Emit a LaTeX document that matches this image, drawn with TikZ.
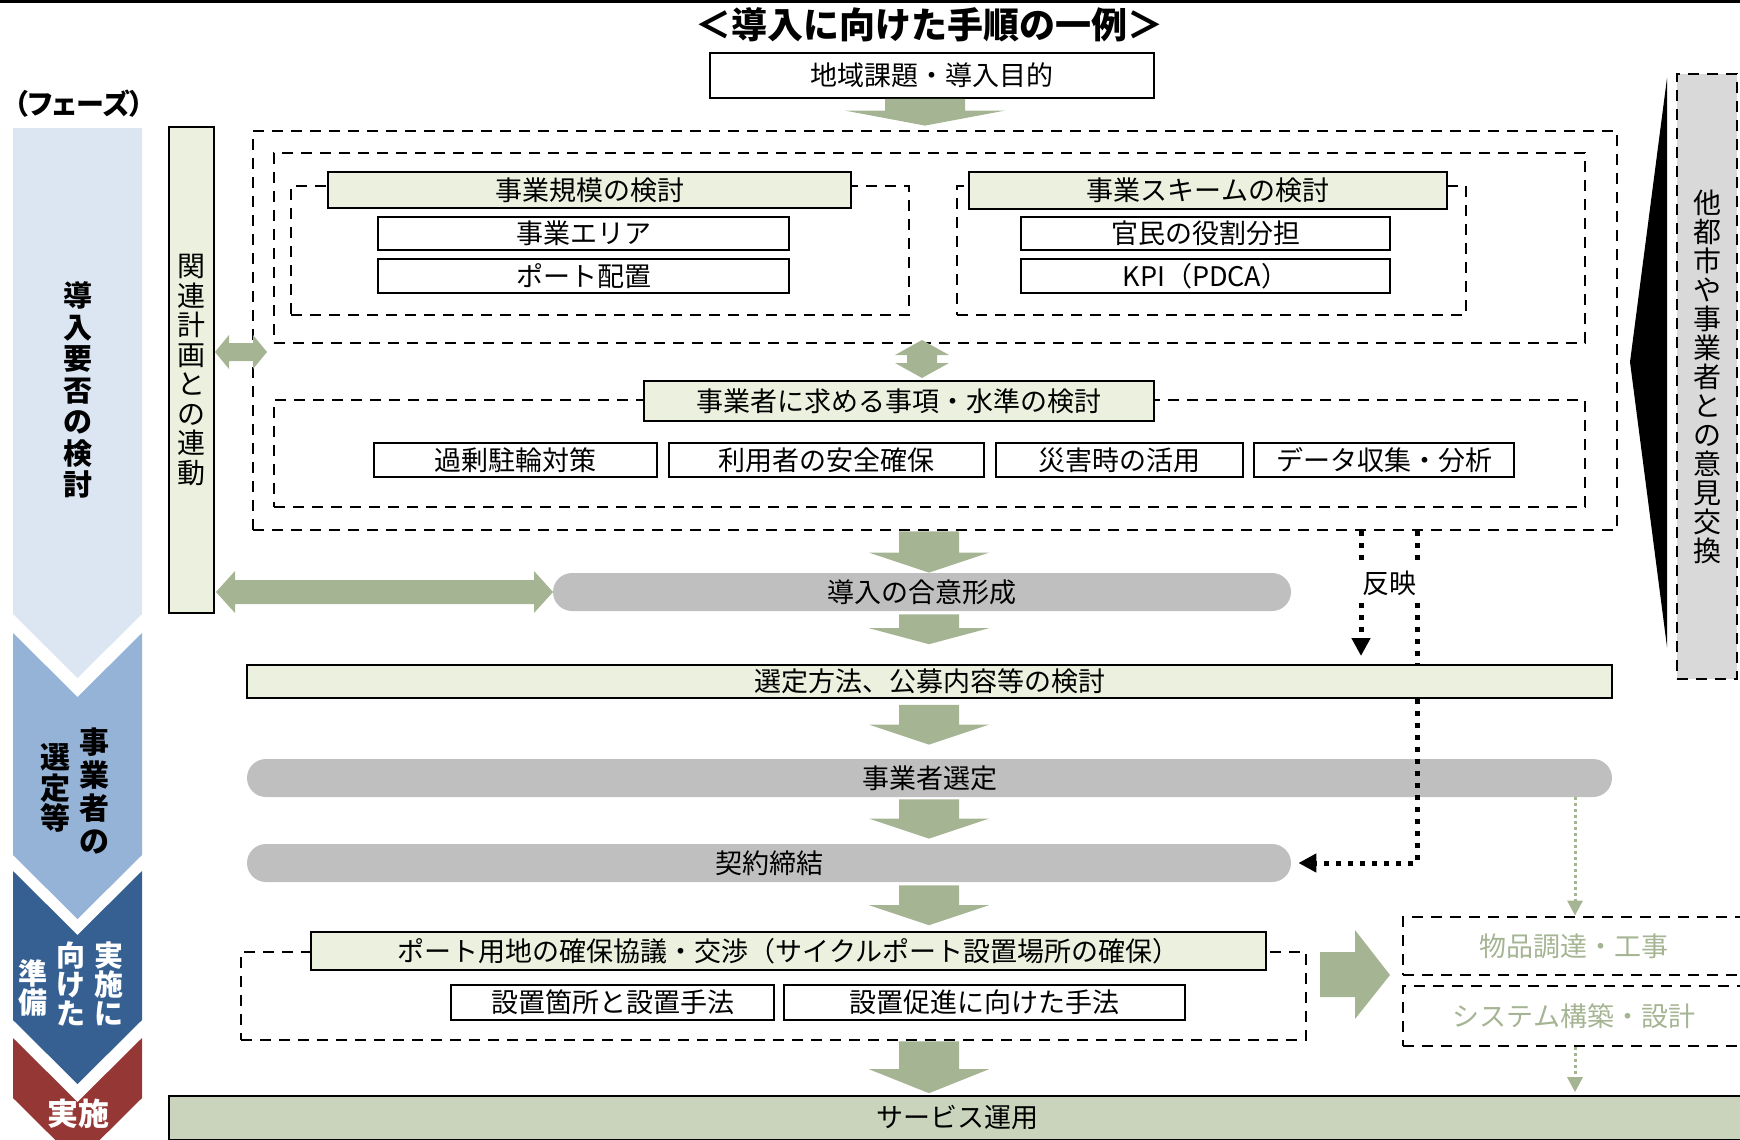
\documentclass[tikz,border=0pt]{standalone}
\usepackage{fontspec}
\setmainfont{Noto Sans CJK JP}
\usetikzlibrary{arrows.meta,calc}
\definecolor{ph1}{RGB}{220,230,242}
\definecolor{ph2}{RGB}{149,179,215}
\definecolor{ph3}{RGB}{54,96,146}
\definecolor{ph4}{RGB}{149,55,53}
\definecolor{lgreen}{RGB}{235,241,222}
\definecolor{agreen}{RGB}{165,180,146}
\definecolor{pillgray}{RGB}{191,191,191}
\definecolor{svcgreen}{RGB}{202,212,189}
\definecolor{boxgray}{RGB}{217,217,217}
\tikzset{
  body/.style={font=\fontsize{13.5}{16}\selectfont},
  plainbox/.style={body, draw=black, line width=0.8pt, fill=white, inner sep=0pt},
  headbox/.style={plainbox, fill=lgreen},
  dashbox/.style={draw=black, line width=1.4pt, dash pattern=on 5.5pt off 4pt, inner sep=0pt},
  pill/.style={body, fill=pillgray, rounded corners=9.5pt, inner sep=0pt},
  vtext/.style={align=center, inner sep=0pt},
  phasebk/.style={vtext, text=black, font=\fontsize{14.5}{15.75}\selectfont\bfseries},
  phasewt/.style={vtext, text=white, font=\fontsize{14.5}{14.5}\selectfont\bfseries},
  refl/.style={draw=black, line width=2.5pt, dash pattern=on 2.5pt off 3.5pt},
  gdot/.style={draw=agreen, line width=1.5pt, dash pattern=on 1.5pt off 1.5pt},
  rtip/.style={-{Triangle[width=9pt,length=9pt]}},
  gtip/.style={-{Triangle[width=7.5pt,length=7.5pt]}},
}
% box node from pixel corners: [style]{name}{x1}{y1}{x2}{y2}{text}
\newcommand\bnode[7][]{\node[#1, minimum width={(#5-#3)*0.5pt}, minimum height={(#6-#4)*0.5pt}] (#2) at ({(#3+#5)/2},{(#4+#6)/2}) {#7};}
\newcommand\blockdown[5]{\fill[agreen] let \p1=#1, \p2=#2 in
  (\x1-#3,\y1) -- (\x1+#3,\y1) -- (\x1+#3,\y2+#5) -- (\x1+#4,\y2+#5) -- (\x1,\y2)
  -- (\x1-#4,\y2+#5) -- (\x1-#3,\y2+#5) -- cycle;}
\begin{document}
\begin{tikzpicture}[x=0.5pt,y=-0.5pt]
\useasboundingbox (0,0) rectangle (1740,1140);
\draw[line width=1.5pt] (0,1.5) -- (1740,1.5);
% phase column
\fill[ph1] (13,128) -- (142,128) -- (142,614) -- (77.5,678) -- (13,614) -- cycle;
\fill[ph2] (13,633) -- (77.5,697) -- (142,633) -- (142,855) -- (77.5,919) -- (13,855) -- cycle;
\fill[ph3] (13,871) -- (77.5,935) -- (142,871) -- (142,1020) -- (77.5,1084) -- (13,1020) -- cycle;
\fill[ph4] (13,1038) -- (77.5,1102) -- (142,1038) -- (142,1098) -- (77.5,1162) -- (13,1098) -- cycle;
\node[font=\fontsize{14}{16}\selectfont\bfseries\addfontfeature{RawFeature=+palt}] (phase) at (79,104) {（フェーズ）};
\node[phasebk] (p1) at (78,390) {導\\入\\要\\否\\の\\検\\討};
\node[phasebk, font=\fontsize{15}{16.5}\selectfont\bfseries] (p2a) at (94,791) {事\\業\\者\\の};
\node[phasebk, font=\fontsize{15}{15.25}\selectfont\bfseries] (p2b) at (55,788) {選\\定\\等};
\node[phasewt] (p3a) at (109,984) {実\\施\\に};
\node[phasewt] (p3b) at (71,984) {向\\け\\た};
\node[phasewt] (p3c) at (33,988) {準\\備};
\node[text=white, font=\fontsize{15.5}{16}\selectfont\bfseries] (p4) at (78,1114) {実施};
% title
\node[font=\fontsize{18}{20}\selectfont\bfseries] (title) at (929,25) {＜導入に向けた手順の一例＞};
\bnode[plainbox]{chiiki}{710}{53}{1154}{98}{地域課題・導入目的}
% right side
\fill (1667,78) -- (1667,647) -- (1630,362) -- cycle;
\bnode[dashbox, fill=boxgray, vtext, font=\fontsize{14}{14.5}\selectfont]{iken}{1677}{74}{1737}{679}{他\\都\\市\\や\\事\\業\\者\\と\\の\\意\\見\\交\\換}
% kanren
\bnode[headbox, vtext, font=\fontsize{14}{14.75}\selectfont]{kanren}{169}{127}{214}{613}{関\\連\\計\\画\\と\\の\\連\\動}
% upper study groups
\bnode[dashbox]{outer}{253}{131}{1617}{530}{}
\bnode[dashbox]{upper}{274}{153}{1585}{343}{}
\bnode[dashbox]{scaleg}{291}{186}{909}{315}{}
\bnode[headbox]{scaleh}{328}{172}{851}{208}{事業規模の検討}
\bnode[plainbox]{area}{378}{217}{789}{250}{事業エリア}
\bnode[plainbox]{port}{378}{259}{789}{293}{ポート配置}
\bnode[dashbox]{schemeg}{957}{186}{1466}{315}{}
\bnode[headbox]{schemeh}{969}{172}{1447}{209}{事業スキームの検討}
\bnode[plainbox]{role}{1021}{217}{1390}{250}{官民の役割分担}
\bnode[plainbox]{kpi}{1021}{259}{1390}{293}{KPI（PDCA）}
\bnode[dashbox]{reqg}{274}{400}{1585}{507}{}
\bnode[headbox]{reqh}{644}{381}{1154}{421}{事業者に求める事項・水準の検討}
\bnode[plainbox]{r1}{374}{443}{657}{477}{過剰駐輪対策}
\bnode[plainbox]{r2}{669}{443}{984}{477}{利用者の安全確保}
\bnode[plainbox]{r3}{996}{443}{1243}{477}{災害時の活用}
\bnode[plainbox]{r4}{1254}{443}{1514}{477}{データ収集・分析}
% pills
\bnode[pill]{goui}{553}{573}{1291}{611}{導入の合意形成}
\bnode[pill]{jigyo}{247}{759}{1612}{797}{事業者選定}
\bnode[pill]{keiyaku}{247}{844}{1291}{882}{契約締結}
% reflection connectors
\coordinate (h1) at (1361,0);
\coordinate (h2) at (1417,0);
\coordinate (g1) at (1575,0);
\coordinate (ax) at (929,0);
\coordinate (axa) at (925,0);
\coordinate (h1end) at (1361,656);
\draw[refl, rtip] (outer.south -| h1) -- (h1end);
\draw[refl, rtip] (outer.south -| h2) -- (keiyaku.east -| h2) -- ($(keiyaku.east)+(7,0)$);
\bnode[headbox]{sentei}{247}{665}{1612}{698}{選定方法、公募内容等の検討}
\node[body, fill=white, inner xsep=2pt, inner ysep=4pt] (hanei) at (1389,583) {反映};
% port group
\bnode[dashbox]{portg}{241}{952}{1306}{1040}{}
\bnode[headbox]{porth}{311}{932}{1266}{970}{ポート用地の確保協議・交渉（サイクルポート設置場所の確保）}
\bnode[plainbox]{s1}{451}{985}{774}{1020}{設置箇所と設置手法}
\bnode[plainbox]{s2}{784}{985}{1185}{1020}{設置促進に向けた手法}
% procurement
\bnode[dashbox, body, text=agreen]{buppin}{1403}{917}{1745}{975}{物品調達・工事}
\bnode[dashbox, body, text=agreen]{system}{1403}{986}{1745}{1046}{システム構築・設計}
\bnode[body, draw=black, line width=0.8pt, fill=svcgreen, inner sep=0pt]{service}{169}{1096}{1745}{1140}{サービス運用}
\draw[gdot, gtip] (jigyo.south -| g1) -- (buppin.north -| g1);
\draw[gdot, gtip] (system.south -| g1) -- ($(service.north -| g1)+(0,-3)$);
% block arrows
\blockdown{(chiiki.south -| axa)}{($(outer.north -| axa)+(0,-4)$)}{20pt}{40pt}{7.5pt}
\blockdown{(outer.south -| ax)}{(goui.north -| ax)}{15pt}{30pt}{10pt}
\blockdown{($(goui.south -| ax)+(0,3)$)}{($(sentei.north -| ax)+(0,-20)$)}{15pt}{30pt}{8pt}
\blockdown{($(sentei.south -| ax)+(0,6)$)}{($(jigyo.north -| ax)+(0,-14)$)}{15pt}{30pt}{10pt}
\blockdown{($(jigyo.south -| ax)+(0,2)$)}{($(keiyaku.north -| ax)+(0,-5)$)}{15pt}{30pt}{10pt}
\blockdown{($(keiyaku.south -| ax)+(0,3)$)}{($(porth.north -| ax)+(0,-6)$)}{15pt}{30pt}{10pt}
\blockdown{(portg.south -| ax)}{($(service.north -| ax)+(0,-2)$)}{15pt}{30pt}{12pt}
% double arrows
\fill[agreen] (922,340) -- (949,355) -- (937,355) -- (937,363) -- (949,363) -- (922,378)
  -- (895,363) -- (907,363) -- (907,355) -- (895,355) -- cycle;
\fill[agreen] (215,352) -- (229,335) -- (229,343) -- (253,343) -- (253,335) -- (267,352)
  -- (253,369) -- (253,361) -- (229,361) -- (229,369) -- cycle;
\fill[agreen] (216,592) -- (235,571) -- (235,580) -- (534,580) -- (534,571) -- (553,592)
  -- (534,613) -- (534,604) -- (235,604) -- (235,613) -- cycle;
\fill[agreen] (1320,952) -- (1355,952) -- (1355,930) -- (1390,975) -- (1355,1019)
  -- (1355,997) -- (1320,997) -- cycle;
\end{tikzpicture}
\end{document}
